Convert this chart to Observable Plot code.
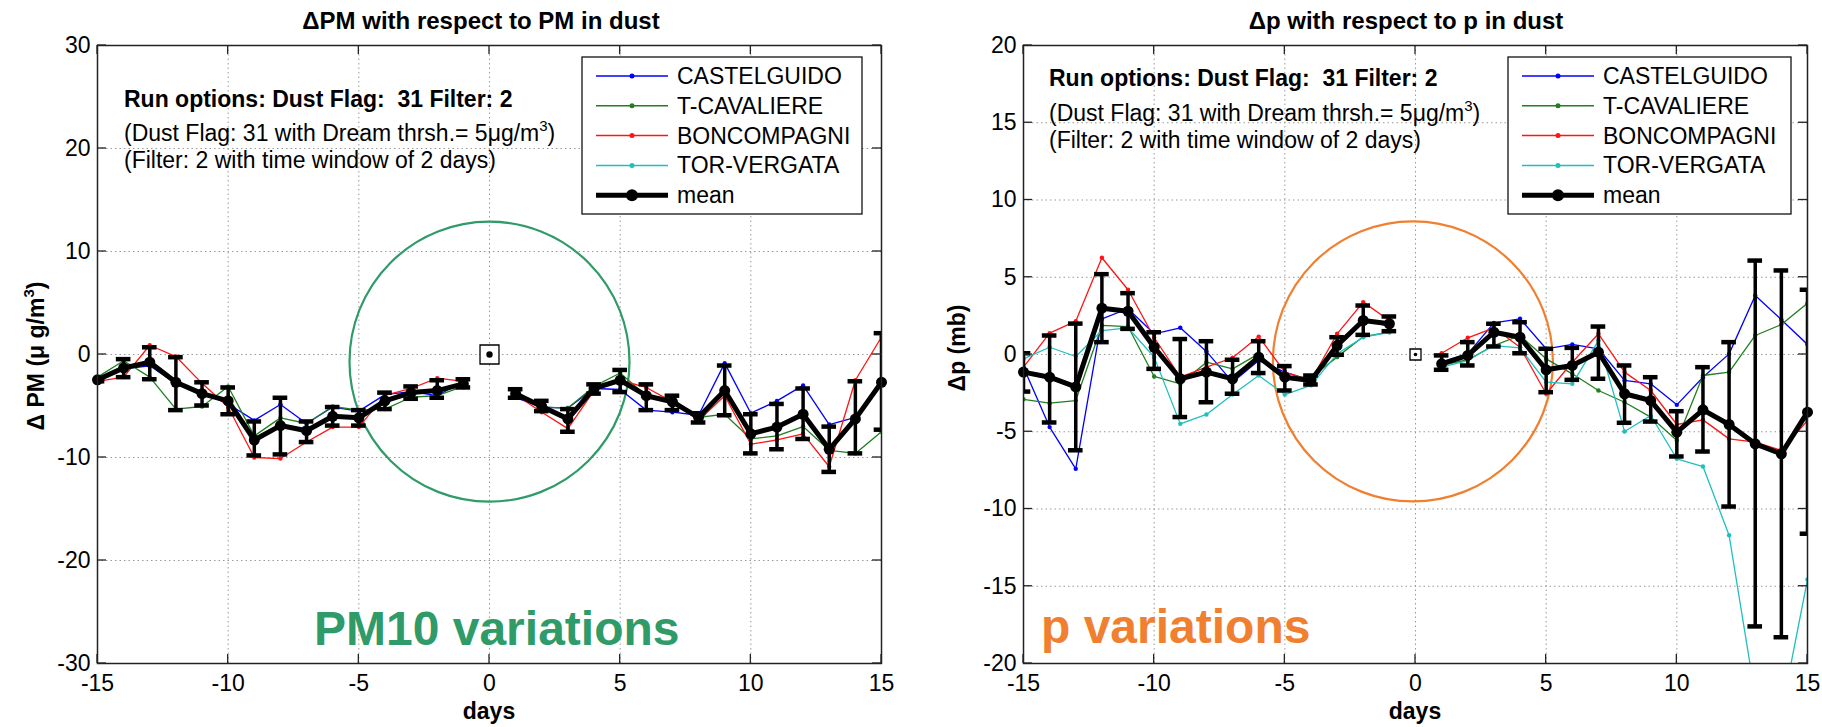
<!DOCTYPE html>
<html><head><meta charset="utf-8">
<script src="https://cdn.jsdelivr.net/npm/d3@7"></script>
<script src="https://cdn.jsdelivr.net/npm/@observablehq/plot@0.6"></script>
<style>
html,body{margin:0;padding:0;background:#fff;}
#wrap{display:flex;width:1822px;height:727px;overflow:hidden;background:#fff;}
#wrap svg{display:block;flex:none;}
</style></head><body><div id="wrap"></div>
<script>
// ---------- data ----------
const days = [-15,-14,-13,-12,-11,-10,-9,-8,-7,-6,-5,-4,-3,-2,-1,1,2,3,4,5,6,7,8,9,10,11,12,13,14,15];
const stations = ["CASTELGUIDO","T-CAVALIERE","BONCOMPAGNI","TOR-VERGATA"];
const xTicks = [-15,-10,-5,0,5,10,15];
const pmYTicks = [-30,-20,-10,0,10,20,30];
const pYTicks = [-20,-15,-10,-5,0,5,10,15,20];

// PM10 panel
const pmCastelguido = [-2.5,-1.4,-1.1,-2.8,-3.7,-4.8,-6.4,-4.85,-6.7,-5.1,-5.5,-3.9,-3.6,-4.0,-2.6,
                       -4.2,-5.1,-5.2,-3.3,-3.4,-5.4,-5.6,-5.9,-0.84,-5.7,-4.5,-3.0,-6.8,-6.1,-2.9];
const pmTCavaliere  = [-2.2,-0.6,-2.2,-5.3,-5.05,-3.1,-7.9,-6.15,-6.7,-5.05,-5.4,-5.3,-4.15,-4.0,-3.1,
                       -3.8,-5.1,-5.2,-3.1,-1.8,-4.0,-4.3,-6.1,-5.8,-8.2,-7.9,-7.0,-9.3,-9.6,-7.5];
const pmBoncompagni = [-2.6,-2.2,0.9,-0.2,-2.8,-5.1,-10.0,-10.1,-8.5,-7.05,-7.05,-3.97,-3.3,-2.3,-2.6,
                       -3.9,-5.6,-7.2,-3.5,-2.5,-3.2,-4.6,-6.4,-4.0,-8.7,-8.3,-7.7,-10.9,-2.5,1.7];
const pmTorVergata  = [];
const pmMean    = [-2.46,-1.3,-0.75,-2.7,-3.8,-4.5,-8.3,-6.9,-7.4,-6.0,-6.15,-4.5,-3.7,-3.5,-2.85,
                   -3.8,-5.05,-6.25,-3.3,-2.5,-4.0,-4.6,-6.1,-3.5,-7.7,-7.05,-5.8,-9.2,-6.25,-2.7];
const pmErrHigh = [-2.3,-0.45,0.7,-0.26,-2.7,-3.2,-6.5,-4.2,-6.5,-5.1,-5.4,-3.7,-3.1,-2.5,-2.4,
                   -3.37,-4.5,-5.3,-2.9,-1.5,-2.9,-4.0,-5.7,-1.07,-5.8,-4.8,-3.3,-7.0,-2.6,2.07];
const pmErrLow  = [-2.6,-2.2,-2.4,-5.4,-4.95,-5.8,-9.8,-9.7,-8.5,-6.9,-6.9,-5.3,-4.3,-4.2,-3.2,
                   -4.2,-5.5,-7.5,-3.8,-3.65,-5.4,-5.4,-6.6,-5.9,-9.6,-9.2,-8.2,-11.4,-9.6,-7.3];

// pressure panel
const pCastelguido = [-0.82,-4.7,-7.4,2.3,2.96,1.34,1.73,0.2,-1.79,-0.39,-1.14,-1.68,0.6,2.3,1.8,
                      -0.5,0.04,2.05,2.31,0.37,0.65,0.37,-1.68,-1.9,-3.26,-1.47,0.04,3.82,2.25,0.65];
const pTCavaliere  = [-2.9,-3.15,-2.98,1.88,1.81,-1.42,-1.9,-0.5,-0.93,0.04,-1.47,-1.47,-0.17,1.16,1.44,
                      -0.71,-0.34,0.58,1.23,-0.28,-1.25,-2.33,-3.09,-4.05,-5.57,-1.36,-1.14,1.23,1.94,3.32];
const pBoncompagni = [-0.82,1.38,2.16,6.26,4.19,1.1,-1.47,-0.82,-0.21,1.16,-1.14,-1.68,1.34,3.39,2.2,
                      0.08,1.08,1.73,0.47,-2.54,-0.5,1.34,-1.14,-2.33,-4.53,-4.23,-5.46,-5.67,-6.21,-4.27];
const pTorVergata  = [-0.28,0.47,-0.13,1.55,1.73,-0.17,-4.49,-3.88,-2.59,-1.36,-2.59,-2.0,0.04,1.12,1.44,
                      -0.82,-0.39,0.58,0.43,-1.79,-1.9,0.9,-4.98,-3.95,-6.75,-7.25,-11.7,-22.1,-23.2,-14.56];
const pMean    = [-1.14,-1.47,-2.1,3.0,2.8,0.47,-1.57,-1.14,-1.57,-0.17,-1.47,-1.68,0.58,2.2,1.99,
                  -0.6,-0.06,1.44,1.12,-0.99,-0.71,0.15,-2.54,-2.98,-5.03,-3.58,-4.53,-5.78,-6.43,-3.73];
const pErrHigh = [0.08,1.23,2.0,5.2,3.97,1.44,1.0,0.86,-0.34,0.86,-0.75,-1.36,1.12,3.17,2.46,
                  -0.06,0.8,1.99,2.09,0.37,0.43,1.81,-0.71,-1.47,-3.67,-0.82,0.8,6.08,5.44,4.19];
const pErrLow  = [-2.4,-4.4,-6.2,0.8,1.66,-0.93,-4.05,-3.09,-2.54,-1.2,-2.33,-1.94,-0.02,1.27,1.51,
                  -0.99,-0.71,0.52,0.08,-2.44,-1.64,-1.57,-4.42,-4.34,-6.6,-6.28,-9.84,-17.6,-18.3,-11.6];

// annotation anchors (data coords)
const pmHighlight = [{x: 0, y: -0.7}];
const pHighlight  = [{x: -0.1, y: -0.45}];
const origin = [{x: 0, y: 0}];

// ---------- styling ----------
const stationColors = ["#0000ff", "#217f21", "#ff1414", "#1fbfbf"];
const FONT = "'Liberation Sans', Arial, Helvetica, sans-serif";

function rowsFor(vals) {
  return days.map((d, i) => ({day: d, value: vals[i], half: d < 0 ? "a" : "b"}))
             .filter(r => r.value != null);
}
function meanRowsFor(m, lo, hi) {
  return days.map((d, i) => ({day: d, mean: m[i], lo: lo[i], hi: hi[i], half: d < 0 ? "a" : "b"}));
}

function makePanel(cfg) {
  const stationMarks = cfg.series.flatMap((vals, k) => {
    const rows = rowsFor(vals);
    return [
      Plot.line(rows, {x: "day", y: "value", z: "half", stroke: stationColors[k], strokeWidth: 1.3, clip: true}),
      Plot.dot(rows, {x: "day", y: "value", r: 2.2, fill: stationColors[k], stroke: "none", clip: true})
    ];
  });
  const mrows = meanRowsFor(cfg.mean, cfg.lo, cfg.hi);
  const svg = Plot.plot({
    width: 911, height: 727,
    marginLeft: cfg.marginLeft, marginRight: cfg.marginRight, marginTop: 45, marginBottom: 64,
    style: {fontSize: "23px", fontFamily: FONT, color: "black", background: "white", overflow: "visible"},
    x: {domain: [-15, 15], ticks: xTicks, tickSize: 0, tickPadding: 11, tickFormat: d => String(d), label: null},
    y: {domain: cfg.yDomain, ticks: cfg.yTicks, tickSize: 0, tickPadding: 7, tickFormat: d => String(d), label: null},
    marks: [
      Plot.ruleX(xTicks, {stroke: "#9a9a9a", strokeWidth: 1, strokeDasharray: "1.5,3"}),
      Plot.ruleY(cfg.yTicks, {stroke: "#9a9a9a", strokeWidth: 1, strokeDasharray: "1.5,3"}),
      Plot.dot(cfg.highlight, {x: "x", y: "y", r: 140, stroke: cfg.accent, strokeWidth: 2.2, fill: "none"}),
      ...stationMarks,
      Plot.line(mrows, {x: "day", y: "mean", z: "half", stroke: "black", strokeWidth: 5, clip: true}),
      Plot.ruleX(mrows, {x: "day", y1: "lo", y2: "hi", stroke: "black", strokeWidth: 3.5, clip: true}),
      Plot.ruleY(mrows, {y: "hi", x1: d => d.day - 0.28, x2: d => d.day + 0.28, stroke: "black", strokeWidth: 4.5, clip: true}),
      Plot.ruleY(mrows, {y: "lo", x1: d => d.day - 0.28, x2: d => d.day + 0.28, stroke: "black", strokeWidth: 4.5, clip: true}),
      Plot.dot(mrows, {x: "day", y: "mean", r: 5.5, fill: "black", stroke: "none"}),
      Plot.dot(origin, {x: "x", y: "y", symbol: "square", r: cfg.markerR, stroke: "black", strokeWidth: 1.3, fill: "white"}),
      Plot.dot(origin, {x: "x", y: "y", r: cfg.markerDot, fill: "black", stroke: "none"}),
      Plot.frame({stroke: "#222", strokeWidth: 1.5})
    ]
  });

  const sx = svg.scale("x"), sy = svg.scale("y");
  const X = v => sx.apply(v), Y = v => sy.apply(v);
  const [xl, xr] = [X(-15), X(15)];
  const [yb, yt] = [Y(cfg.yDomain[0]), Y(cfg.yDomain[1])];
  const root = d3.select(svg).append("g").attr("font-family", FONT).attr("fill", "black")
    .attr("text-anchor", "start");

  // inward ticks on all four sides
  const tg = root.append("g").attr("stroke", "#222").attr("stroke-width", 1.3);
  xTicks.forEach(v => {
    tg.append("line").attr("x1", X(v)).attr("x2", X(v)).attr("y1", yb).attr("y2", yb - 9);
    tg.append("line").attr("x1", X(v)).attr("x2", X(v)).attr("y1", yt).attr("y2", yt + 9);
  });
  cfg.yTicks.forEach(v => {
    tg.append("line").attr("x1", xl).attr("x2", xl + 9).attr("y1", Y(v)).attr("y2", Y(v));
    tg.append("line").attr("x1", xr).attr("x2", xr - 9).attr("y1", Y(v)).attr("y2", Y(v));
  });

  // title
  root.append("text").attr("x", cfg.titleX).attr("y", 29).attr("text-anchor", "middle")
    .attr("font-size", 24).attr("font-weight", "bold").text(cfg.title);

  // run-option notes
  const n = cfg.notes;
  root.append("text").attr("x", n.x).attr("y", n.y[0]).attr("font-size", 23).attr("font-weight", "bold")
    .attr("text-anchor", "start").text("Run options: Dust Flag:\u00a0 31 Filter: 2");
  const t2 = root.append("text").attr("x", n.x).attr("y", n.y[1]).attr("font-size", 23).attr("text-anchor", "start");
  t2.append("tspan").text("(Dust Flag: 31 with Dream thrsh.= 5\u03bcg/m");
  t2.append("tspan").attr("font-size", 15).attr("dy", -10).text("3");
  t2.append("tspan").attr("dy", 10).text(")");
  root.append("text").attr("x", n.x).attr("y", n.y[2]).attr("font-size", 23).attr("text-anchor", "start")
    .text("(Filter: 2 with time window of 2 days)");

  // legend
  const L = cfg.legend;
  const lg = root.append("g");
  lg.append("rect").attr("x", L.x).attr("y", 57).attr("width", L.w).attr("height", 157)
    .attr("fill", "white").attr("stroke", "#111").attr("stroke-width", 1.3);
  const labels = [...stations, "mean"];
  const colors = [...stationColors, "black"];
  labels.forEach((lab, i) => {
    const yy = 76 + i * 29.8;
    const isMean = i === 4;
    lg.append("line").attr("x1", L.x + 14).attr("x2", L.x + 86).attr("y1", yy).attr("y2", yy)
      .attr("stroke", colors[i]).attr("stroke-width", isMean ? 5 : 1.5);
    lg.append("circle").attr("cx", L.x + 50).attr("cy", yy).attr("r", isMean ? 6 : 2.5).attr("fill", colors[i]);
    lg.append("text").attr("x", L.x + 95).attr("y", yy + 8).attr("font-size", 23)
      .attr("text-anchor", "start").text(lab);
  });

  // big label
  root.append("text").attr("x", cfg.big.x).attr("y", cfg.big.y).attr("font-size", 48)
    .attr("font-weight", "bold").attr("text-anchor", "start").attr("fill", cfg.accent).text(cfg.big.text);

  // axis labels
  const yl = root.append("text").attr("transform", `translate(${cfg.yLabel.x},${cfg.yLabel.y}) rotate(-90)`)
    .attr("text-anchor", "middle").attr("font-size", 23).attr("font-weight", "bold");
  yl.append("tspan").text(cfg.yLabel.text);
  if (cfg.yLabel.sup) {
    yl.append("tspan").attr("font-size", 15).attr("dy", -10).text("3");
    yl.append("tspan").attr("dy", 10).text(")");
  }
  root.append("text").attr("x", (xl + xr) / 2).attr("y", 719).attr("text-anchor", "middle")
    .attr("font-size", 23).attr("font-weight", "bold").text("days");
  return svg;
}

const wrap = document.getElementById("wrap");
wrap.appendChild(makePanel({
  marginLeft: 97, marginRight: 30,
  yDomain: [-30, 30], yTicks: pmYTicks,
  series: [pmCastelguido, pmTCavaliere, pmBoncompagni, pmTorVergata],
  mean: pmMean, lo: pmErrLow, hi: pmErrHigh,
  highlight: pmHighlight, accent: "#2e9b68", markerR: 10.7, markerDot: 3.2,
  title: "\u0394PM with respect to PM in dust", titleX: 481,
  notes: {x: 124, y: [107, 141, 168]},
  legend: {x: 582, w: 280},
  big: {x: 314, y: 645, text: "PM10 variations"},
  yLabel: {x: 44, y: 356, text: "\u0394 PM (\u03bc g/m", sup: true}
}));
wrap.appendChild(makePanel({
  marginLeft: 112, marginRight: 15,
  yDomain: [-20, 20], yTicks: pYTicks,
  series: [pCastelguido, pTCavaliere, pBoncompagni, pTorVergata],
  mean: pMean, lo: pErrLow, hi: pErrHigh,
  highlight: pHighlight, accent: "#f07f2f", markerR: 6.2, markerDot: 1.8,
  title: "\u0394p with respect to p in dust", titleX: 495,
  notes: {x: 138, y: [86, 121, 148]},
  legend: {x: 597, w: 283},
  big: {x: 130, y: 643, text: "p variations"},
  yLabel: {x: 54, y: 348, text: "\u0394p (mb)", sup: false}
}));
</script>
</body></html>
